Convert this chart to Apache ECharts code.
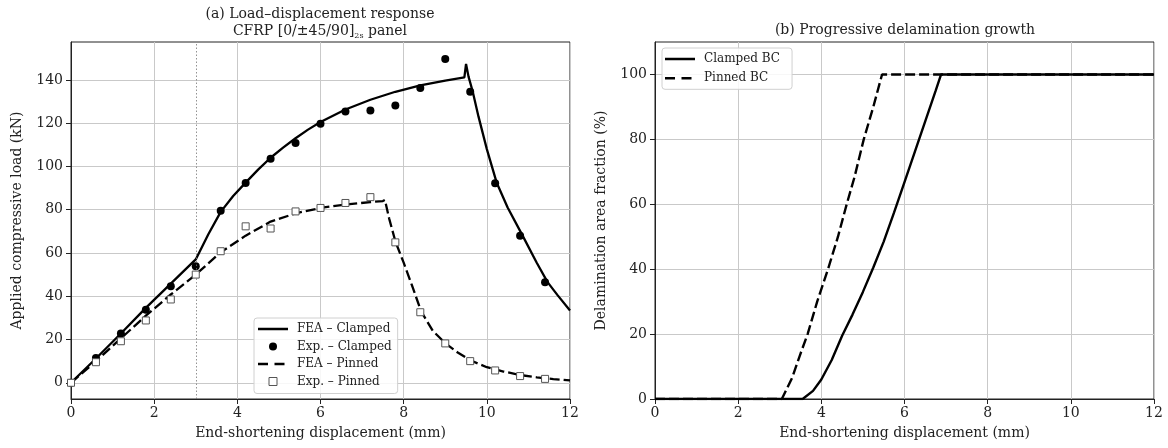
<!DOCTYPE html>
<html>
<head>
<meta charset="utf-8">
<script src="https://cdn.jsdelivr.net/npm/echarts@6/dist/echarts.min.js"></script>
<style>
  html, body { margin: 0; padding: 0; background: #fff; }
  #chart { width: 1168px; height: 448px; }
</style>
</head>
<body>
<div id="chart"></div>
<script>
// tick labels
const dispTicks = [0, 2, 4, 6, 8, 10, 12];
const loadTicks = [0, 20, 40, 60, 80, 100, 120, 140];
const delamTicks = [0, 20, 40, 60, 80, 100];
const guideX = 3; // dotted reference line

// (a) FEA - clamped
const feaClampedX = [0, 0.6, 1.2, 1.8, 2.4, 3.0, 3.3, 3.6, 3.9, 4.2, 4.5, 4.8, 5.1, 5.4, 5.7, 6.0, 6.6, 7.2, 7.8, 8.4, 9.0, 9.46, 9.5, 9.56, 9.66, 9.8, 10.0, 10.24, 10.5, 10.86, 11.2, 11.46, 11.7, 12.0];
const feaClampedY = [0, 11.2, 22.8, 34.6, 45.8, 57, 68.5, 79, 86.3, 92.5, 98.5, 104, 108.7, 113, 117, 120.5, 126.3, 130.8, 134.5, 137.4, 139.7, 141.1, 147.4, 141.5, 134.6, 123, 108, 92.3, 81, 68, 55.5, 46.5, 40.5, 33.4];
// (a) FEA - pinned
const feaPinnedX = [0, 0.6, 1.2, 1.8, 2.4, 3.0, 3.6, 4.2, 4.8, 5.4, 6.0, 6.6, 7.2, 7.5, 7.55, 7.65, 7.8, 8.0, 8.2, 8.42, 8.7, 9.0, 9.3, 9.6, 10.0, 10.4, 10.8, 11.2, 11.6, 12.0];
const feaPinnedY = [0, 10, 20.5, 31, 40.8, 50, 60.3, 68, 74.5, 78.3, 80.8, 82.4, 83.5, 84, 84.5, 76, 65.4, 55.5, 45, 33, 24, 18.3, 14, 10.4, 7.2, 5.2, 3.6, 2.5, 1.7, 1.1];
// (a) experiments
const expX = [0, 0.6, 1.2, 1.8, 2.4, 3.0, 3.6, 4.2, 4.8, 5.4, 6.0, 6.6, 7.2, 7.8, 8.4, 9.0, 9.6, 10.2, 10.8, 11.4];
const expClampedY = [0, 11.5, 22.8, 33.8, 44.6, 53.8, 79.5, 92.3, 103.5, 110.8, 119.7, 125.4, 125.8, 128.2, 136.2, 149.7, 134.5, 92.2, 68, 46.5];
const expPinnedY = [0, 9.5, 19.2, 28.8, 38.5, 50, 60.8, 72.3, 71.3, 79.2, 80.8, 83.1, 85.8, 64.9, 32.6, 18.2, 10, 5.7, 3.1, 1.8];

// (b) delamination area fraction
const delamClampedX = [0, 3.55, 3.8, 4.0, 4.25, 4.5, 4.75, 5.0, 5.25, 5.5, 5.75, 6.0, 6.25, 6.5, 6.75, 6.88, 12];
const delamClampedY = [0, 0, 2.5, 6, 12, 19.5, 26, 33, 40.5, 48.5, 57.5, 66.8, 76.2, 85.6, 95, 100, 100];
const delamPinnedX = [0, 3.05, 3.3, 3.5, 3.67, 3.9, 4.16, 4.4, 4.61, 4.8, 5.02, 5.25, 5.46, 12];
const delamPinnedY = [0, 0, 6.6, 14, 20, 30, 40, 50, 60, 68.5, 80, 90, 100, 100];

const zip = (xs, ys) => xs.map((x, i) => [x, ys[i]]);

const FONT = "DejaVu Serif";
const INK = "#222";
const GRIDLINE = "#c9c9c9";

// legend handles (30x8 boxes, tiny corner dots keep the box size)
const ICON_SOLID = "path://M0,0h0.01v0.01h-0.01Z M0,2.8H30V5.2H0Z M29.99,7.99h0.01v0.01h-0.01Z";
const ICON_DASHED = "path://M0,0h0.01v0.01h-0.01Z M0,2.8H10V5.2H0Z M16.5,2.8H26.5V5.2H16.5Z M29.99,7.99h0.01v0.01h-0.01Z";
const ICON_SQUARE = "path://M0,0H7V7H0Z";

function xAxisFor(gridIndex) {
  return {
    type: "value", gridIndex, min: 0, max: 12, interval: 2,
    name: "End-shortening displacement (mm)", nameLocation: "middle", nameGap: 27,
    nameTextStyle: { fontFamily: FONT, fontSize: 14, color: INK },
    axisLine: { onZero: false, lineStyle: { color: INK, width: 1 } },
    axisTick: { length: 5, lineStyle: { color: INK }, customValues: dispTicks },
    axisLabel: { fontFamily: FONT, fontSize: 14, color: INK, margin: 7, customValues: dispTicks },
    splitLine: { show: true, lineStyle: { color: GRIDLINE, width: 1 } }
  };
}

function yAxisFor(gridIndex, name, min, max, ticks) {
  return {
    type: "value", gridIndex, min, max,
    name, nameLocation: "middle", nameGap: 47,
    nameTextStyle: { fontFamily: FONT, fontSize: 14, color: INK },
    axisLine: { show: true, onZero: false, lineStyle: { color: INK, width: 1 } },
    axisTick: { show: true, length: 5, lineStyle: { color: INK }, customValues: ticks },
    axisLabel: { fontFamily: FONT, fontSize: 14, color: INK, margin: 8, customValues: ticks },
    splitLine: { show: true, lineStyle: { color: GRIDLINE, width: 1 } }
  };
}

const legendBox = {
  orient: "vertical",
  itemWidth: 30, itemHeight: 8,
  symbolKeepAspect: true,
  backgroundColor: "rgba(255,255,255,0.85)", borderColor: "#d0d0d0", borderWidth: 1, borderRadius: 3,
  textStyle: { fontFamily: FONT, fontSize: 12, color: INK, padding: [0, 0, 0, 4] }
};

const chart = echarts.init(document.getElementById("chart"));
chart.setOption({
  animation: false,
  backgroundColor: "#fff",
  title: [
    {
      text: "(a) Load–displacement response\nCFRP [0/±45/90]{sub|2s} panel",
      left: 320, top: 6, textAlign: "center", padding: 0,
      textStyle: {
        fontFamily: FONT, fontSize: 14, fontWeight: "normal", color: INK, lineHeight: 17,
        rich: { sub: { fontFamily: FONT, fontSize: 8, color: INK, verticalAlign: "bottom", lineHeight: 17 } }
      }
    },
    {
      text: "(b) Progressive delamination growth",
      left: 905, top: 23, textAlign: "center", padding: 0,
      textStyle: { fontFamily: FONT, fontSize: 14, fontWeight: "normal", color: INK }
    }
  ],
  legend: [
    Object.assign({}, legendBox, {
      data: [
        { name: "FEA – Clamped", icon: ICON_SOLID },
        { name: "Exp. – Clamped", icon: "circle" },
        { name: "FEA – Pinned", icon: ICON_DASHED },
        { name: "Exp. – Pinned", icon: ICON_SQUARE, itemStyle: { color: "#fff", borderColor: "#555", borderWidth: 1 } }
      ],
      left: 254, top: 318, itemGap: 5.5,
      padding: [5, 6, 6, 4]
    }),
    Object.assign({}, legendBox, {
      data: [
        { name: "Clamped BC", icon: ICON_SOLID },
        { name: "Pinned BC", icon: ICON_DASHED }
      ],
      left: 662, top: 48, itemGap: 7.3,
      padding: [5, 12, 5, 3]
    })
  ],
  grid: [
    { left: 71, top: 42, width: 499, height: 357, show: true, borderColor: INK, borderWidth: 1, backgroundColor: "transparent" },
    { left: 655, top: 42, width: 499, height: 357, show: true, borderColor: INK, borderWidth: 1, backgroundColor: "transparent" }
  ],
  xAxis: [xAxisFor(0), xAxisFor(1)],
  yAxis: [
    yAxisFor(0, "Applied compressive load (kN)", -7.5, 157.5, loadTicks),
    yAxisFor(1, "Delamination area fraction (%)", 0, 110, delamTicks)
  ],
  series: [
    {
      name: "FEA – Clamped", type: "line", xAxisIndex: 0, yAxisIndex: 0,
      data: zip(feaClampedX, feaClampedY), symbol: "none", z: 3,
      lineStyle: { color: "#000", width: 2.3 }, itemStyle: { color: "#000" },
      markLine: {
        silent: true, symbol: "none", label: { show: false },
        lineStyle: { color: "#777", width: 0.8, type: [1.5, 2] },
        data: [{ xAxis: guideX }]
      }
    },
    {
      name: "Exp. – Clamped", type: "scatter", xAxisIndex: 0, yAxisIndex: 0,
      data: zip(expX, expClampedY), symbol: "circle", symbolSize: 8, z: 4,
      itemStyle: { color: "#000", opacity: 1 }
    },
    {
      name: "FEA – Pinned", type: "line", xAxisIndex: 0, yAxisIndex: 0,
      data: zip(feaPinnedX, feaPinnedY), symbol: "none", z: 3,
      lineStyle: { color: "#000", width: 2.3, type: [10, 4] }, itemStyle: { color: "#000" }
    },
    {
      name: "Exp. – Pinned", type: "scatter", xAxisIndex: 0, yAxisIndex: 0,
      data: zip(expX, expPinnedY), symbol: "rect", symbolSize: 7, z: 5,
      itemStyle: { color: "#fff", borderColor: "#555", borderWidth: 1, opacity: 1 }
    },
    {
      name: "Clamped BC", type: "line", xAxisIndex: 1, yAxisIndex: 1,
      data: zip(delamClampedX, delamClampedY), symbol: "none", z: 4,
      lineStyle: { color: "#000", width: 2.4 }, itemStyle: { color: "#000" }
    },
    {
      name: "Pinned BC", type: "line", xAxisIndex: 1, yAxisIndex: 1,
      data: zip(delamPinnedX, delamPinnedY), symbol: "none", z: 3,
      lineStyle: { color: "#000", width: 2.4, type: [10, 4] }, itemStyle: { color: "#000" }
    }
  ]
});
</script>
</body>
</html>
